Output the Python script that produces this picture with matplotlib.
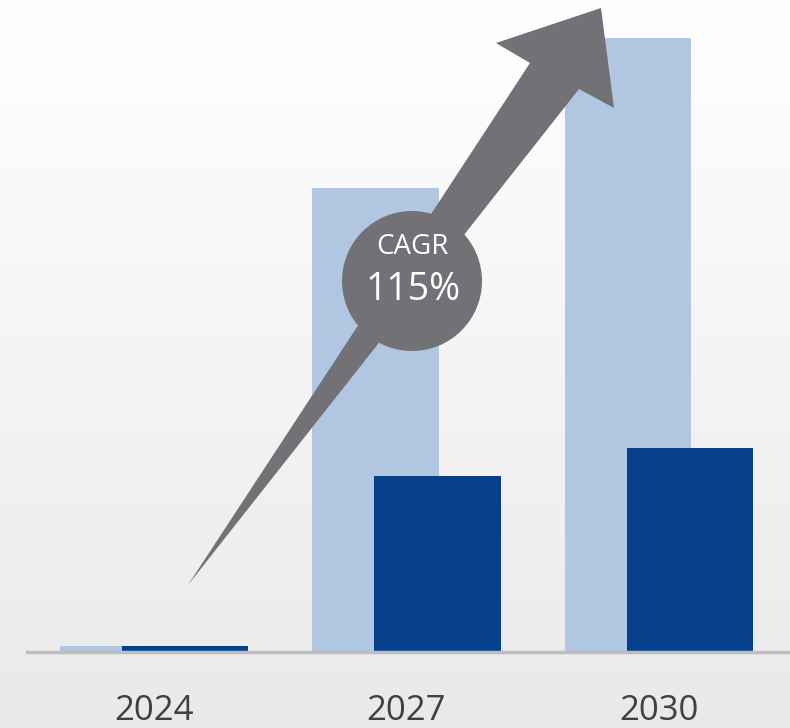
import matplotlib.pyplot as plt
import matplotlib.patches as patches
import numpy as np

# data (heights, arbitrary units)
years = ["2024", "2027", "2030"]
total = [6, 464, 614]      # light blue
part = [6, 176, 204]       # dark blue
cagr_label = "CAGR"
cagr_value = "115%"

W, H = 790, 728
fig = plt.figure(figsize=(W / 100, H / 100), dpi=100)

# gradient background
bg = fig.add_axes([0, 0, 1, 1], zorder=0)
grad = np.linspace(1.0, 0.915, 256).reshape(-1, 1)
bg.imshow(np.dstack([grad, grad, grad]), aspect='auto', extent=[0, 1, 0, 1])
bg.axis('off')

# bar axes (1 y unit = 1 pixel)
unit = 252.5
x0 = 154.0
ax = fig.add_axes([0, (H - 652) / H, 1, 652 / H], zorder=1)
ax.patch.set_alpha(0)
ax.set_xlim(-x0 / unit, (W - x0) / unit)
ax.set_ylim(0, 652)
x = np.arange(len(years))
ax.bar(x - 0.123, total, width=0.5, color="#B0C6E1", zorder=1)
ax.bar(x + 0.123, part, width=0.5, color="#07408A", zorder=2)
ax.axhline(0, xmin=27 / W, xmax=1, color="#BEBEBE", linewidth=2.5, zorder=3, clip_on=False)
for s in ax.spines.values():
    s.set_visible(False)
ax.set_xticks([])
ax.set_yticks([])
for xi, lab in zip(x, years):
    ax.text(xi, -68, lab, ha='center', va='baseline', fontsize=25,
            color="#404040", family="Open Sans", clip_on=False)

# overlay in pixel coordinates for the arrow and the badge
ov = fig.add_axes([0, 0, 1, 1], zorder=2)
ov.set_xlim(0, W)
ov.set_ylim(H, 0)
ov.axis('off')
arrow = [(188, 585), (530, 63), (496, 43), (601, 8), (614, 108), (579, 89)]
ov.add_patch(patches.Polygon(arrow, closed=True, facecolor="#717176", edgecolor="none"))
ov.add_patch(patches.Circle((412, 281), 70, facecolor="#717176", edgecolor="none"))
ov.text(412, 247, cagr_label, ha='center', va='center', fontsize=20, color="white", family="Open Sans")
ov.text(413, 290, cagr_value, ha='center', va='center', fontsize=27, color="white", family="Open Sans")

fig.savefig("out.png", dpi=100)
